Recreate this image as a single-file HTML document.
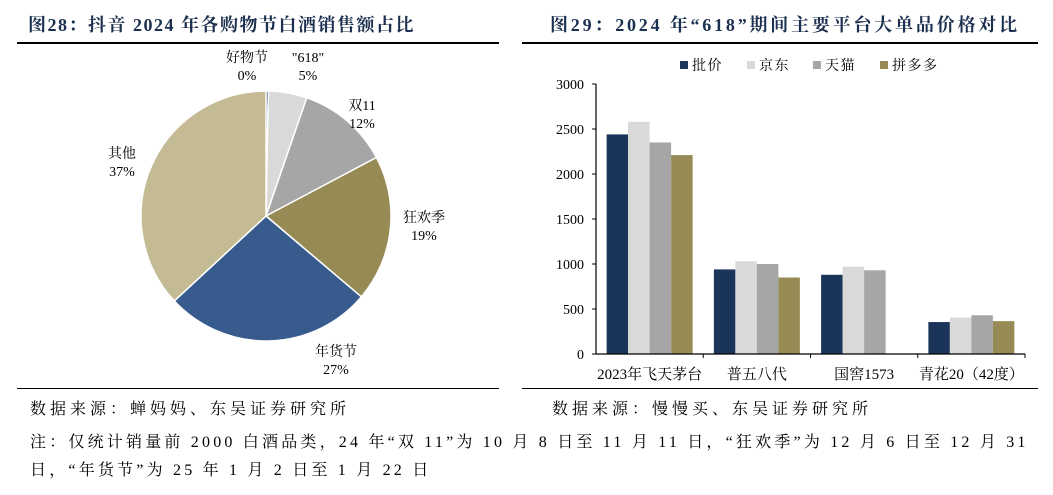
<!DOCTYPE html>
<html><head><meta charset="utf-8"><style>
body{margin:0;width:1053px;height:495px;background:#fff;overflow:hidden;font-family:"Liberation Serif","Noto Serif CJK SC",serif;}
.t{position:absolute;white-space:nowrap}
.title{font-weight:bold;color:#1b2f4f;font-size:18px;letter-spacing:1.5px}
.rule{position:absolute;height:2px;background:#000}
</style></head><body>
<div class="t title" style="left:28px;top:11px">图28：抖音 2024 年各购物节白酒销售额占比</div>
<div class="t title" style="left:550px;top:11px;letter-spacing:2.8px">图29：2024 年“618”期间主要平台大单品价格对比</div>
<div class="rule" style="left:17px;top:42px;width:482px"></div>
<div class="rule" style="left:522px;top:42px;width:516px"></div>
<div class="rule" style="left:17px;top:388px;width:482px;height:1px"></div>
<div class="rule" style="left:522px;top:388px;width:516px;height:1px"></div>
<div class="t" style="left:30px;top:396px;font-size:16px;letter-spacing:4px">数据来源：蝉妈妈、东吴证券研究所</div>
<div class="t" style="left:552px;top:396px;font-size:16px;letter-spacing:4px">数据来源：慢慢买、东吴证券研究所</div>
<div class="t" style="left:30px;top:429px;font-size:16px;letter-spacing:3.2px">注：仅统计销量前 2000 白酒品类，24 年“双 11”为 10 月 8 日至 11 月 11 日，“狂欢季”为 12 月 6 日至 12 月 31</div>
<div class="t" style="left:30px;top:457px;font-size:16px;letter-spacing:3.2px">日，“年货节”为 25 年 1 月 2 日至 1 月 22 日</div>
<svg id="pie" style="position:absolute;left:0;top:0" width="520" height="390"></svg>
<svg id="bar" style="position:absolute;left:0;top:0" width="1053" height="390"></svg>
<script>
const pieLabels=["好物节","\"618\"","双11","狂欢季","年货节","其他"];
const pieValues=[0.3,5,12,19,27,37];
const pieText=["0%","5%","12%","19%","27%","37%"];
const pieColors=["#1a3559","#d9d9d9","#a6a6a6","#968b55","#365b8c","#c4bb94"];
const labelPos=[[247,62],[308,62],[362,110],[424,222],[336,356],[122,158]];
const NS="http://www.w3.org/2000/svg";
const pie=document.getElementById('pie');
const cx=266,cy=216,r=125;
let tot=pieValues.reduce((a,b)=>a+b,0),acc=0;
pieValues.forEach((v,i)=>{
 const a0=acc/tot*2*Math.PI;acc+=v;const a1=acc/tot*2*Math.PI;
 const x0=cx+r*Math.sin(a0),y0=cy-r*Math.cos(a0),x1=cx+r*Math.sin(a1),y1=cy-r*Math.cos(a1);
 const p=document.createElementNS(NS,'path');
 p.setAttribute('d',`M${cx},${cy}L${x0},${y0}A${r},${r} 0 ${a1-a0>Math.PI?1:0} 1 ${x1},${y1}Z`);
 p.setAttribute('fill',pieColors[i]);p.setAttribute('stroke','#fff');p.setAttribute('stroke-width','1.5');
 
 
 pie.appendChild(p);
 [pieLabels[i],pieText[i]].forEach((s,k)=>{
  const t=document.createElementNS(NS,'text');
  t.setAttribute('x',labelPos[i][0]);t.setAttribute('y',labelPos[i][1]+k*18);
  t.setAttribute('text-anchor','middle');t.setAttribute('font-size','14');t.textContent=s;
  
  
  pie.appendChild(t);
 });
});

const categories=["2023年飞天茅台","普五八代","国窖1573","青花20（42度）"];
const seriesNames=["批价","京东","天猫","拼多多"];
const sPifa=[2440,940,880,355];
const sJD=[2580,1030,970,405];
const sTmall=[2350,1000,930,430];
const sPDD=[2210,850,null,365];
const yTicks=[0,500,1000,1500,2000,2500,3000];
const series=[sPifa,sJD,sTmall,sPDD];
const colors=["#1a3559","#d9d9d9","#a6a6a6","#968b55"];
const bar=document.getElementById('bar');
const X0=596,X1=1025,Y0=354,Y1=84,yMax=3000;
const y=v=>Y0-(v/yMax)*(Y0-Y1);
const gw=(X1-X0)/categories.length,bw=21.5;
function el(tag,attrs,txt){const e=document.createElementNS(NS,tag);for(const k in attrs)e.setAttribute(k,attrs[k]);if(txt!=null)e.textContent=txt;bar.appendChild(e);return e;}
series.forEach((s,si)=>s.forEach((v,ci)=>{
 if(v==null)return;
 const r=el('rect',{x:X0+gw*ci+(gw-4*bw)/2+si*bw,y:y(v),width:bw,height:Y0-y(v),fill:colors[si]});
 
 
}));
const ax=el('line',{x1:X0,y1:Y1,x2:X0,y2:Y0,stroke:'#000','stroke-width':1.2});


const bx=el('line',{x1:X0,y1:Y0,x2:X1,y2:Y0,stroke:'#000','stroke-width':1.2});


yTicks.forEach(t=>{
 el('line',{x1:X0-4,y1:y(t),x2:X0,y2:y(t),stroke:'#000'});
 const tl=el('text',{x:X0-12,y:y(t)+5,'text-anchor':'end','font-size':14},t);
 
 
});
categories.forEach((c,i)=>{
 el('line',{x1:X0+gw*(i+1),y1:Y0,x2:X0+gw*(i+1),y2:Y0+4,stroke:'#000'});
 const tl=el('text',{x:X0+gw*i+gw/2,y:Y0+25,'text-anchor':'middle','font-size':15},c);
 
 
});
const lx=[680,747,813,880];
seriesNames.forEach((n,i)=>{
 el('rect',{x:lx[i],y:61,width:8,height:8,fill:colors[i]});
 const tl=el('text',{x:lx[i]+12,y:70,'font-size':14,'letter-spacing':1.5},n);
 
 
});
</script>
</body></html>
